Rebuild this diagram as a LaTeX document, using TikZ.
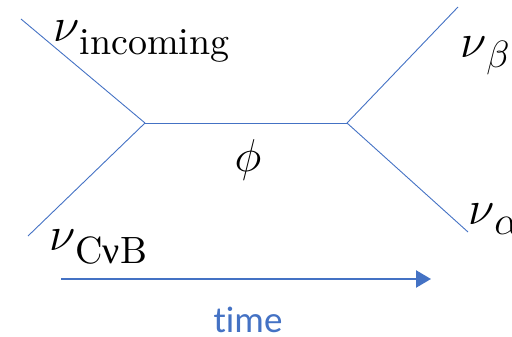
\RequirePackage{fix-cm}
\documentclass[tikz,border=0pt]{standalone}
\usepackage{fontspec}
\usetikzlibrary{arrows.meta}
\newfontfamily\timefont[Ligatures=NoCommon]{Carlito}
\newfontfamily\grkfont{Liberation Serif}
\newfontfamily\subfont{lmroman10-regular.otf}
\definecolor{lineblue}{HTML}{4472C4}
\tikzset{
  leg/.style={draw=lineblue, line width=0.9pt},
  lbl/.style={inner sep=0pt, anchor=base west},
  timearrow/.style={draw=lineblue, line width=2.4pt, -{Triangle[length=15pt,width=17pt]}}
}
\newcommand\bignu{{\fontsize{48}{48}\selectfont$\nu$}}
\newcommand\subtxt[1]{\raisebox{-13pt}{\fontsize{38}{38}\subfont #1}}
\begin{document}
\begin{tikzpicture}[x=1pt,y=-1pt]
\useasboundingbox (0,0) rectangle (512,337);
% vertices and free leg ends
\coordinate (vl) at (145,123);
\coordinate (vr) at (347,123);
\coordinate (inA) at (21,19);
\coordinate (inB) at (28,236);
\coordinate (outB) at (458,7);
\coordinate (outA) at (468,232);
% legs and propagator
\draw[leg] (inA) -- (vl);
\draw[leg] (inB) -- (vl);
\draw[leg] (vl) -- (vr);
\draw[leg] (vr) -- (outB);
\draw[leg] (vr) -- (outA);
% labels
\node[lbl] (lin) at (53,42) {\bignu\subtxt{incoming}};
\node[lbl] (lcnb) at (49,250) {\bignu\subtxt{C{\grkfont ν}B}};
\node[lbl] (lbeta) at (460,58) {\bignu\raisebox{-10pt}{\fontsize{38}{38}\selectfont$\beta$}};
\node[lbl] (lalpha) at (468,224) {\bignu\raisebox{-10pt}{\fontsize{40}{40}\selectfont$\alpha$}};
\node[inner sep=0pt] (phi) at (248,160) {\fontsize{46}{46}\selectfont$\phi$};
% time axis
\coordinate (ts) at (61,279);
\coordinate (te) at (431,279);
\draw[timearrow] (ts) -- (te);
\node[inner sep=0pt, anchor=base, text=lineblue] (time) at (248,332) {\fontsize{37}{37}\timefont time};
\end{tikzpicture}
\end{document}
